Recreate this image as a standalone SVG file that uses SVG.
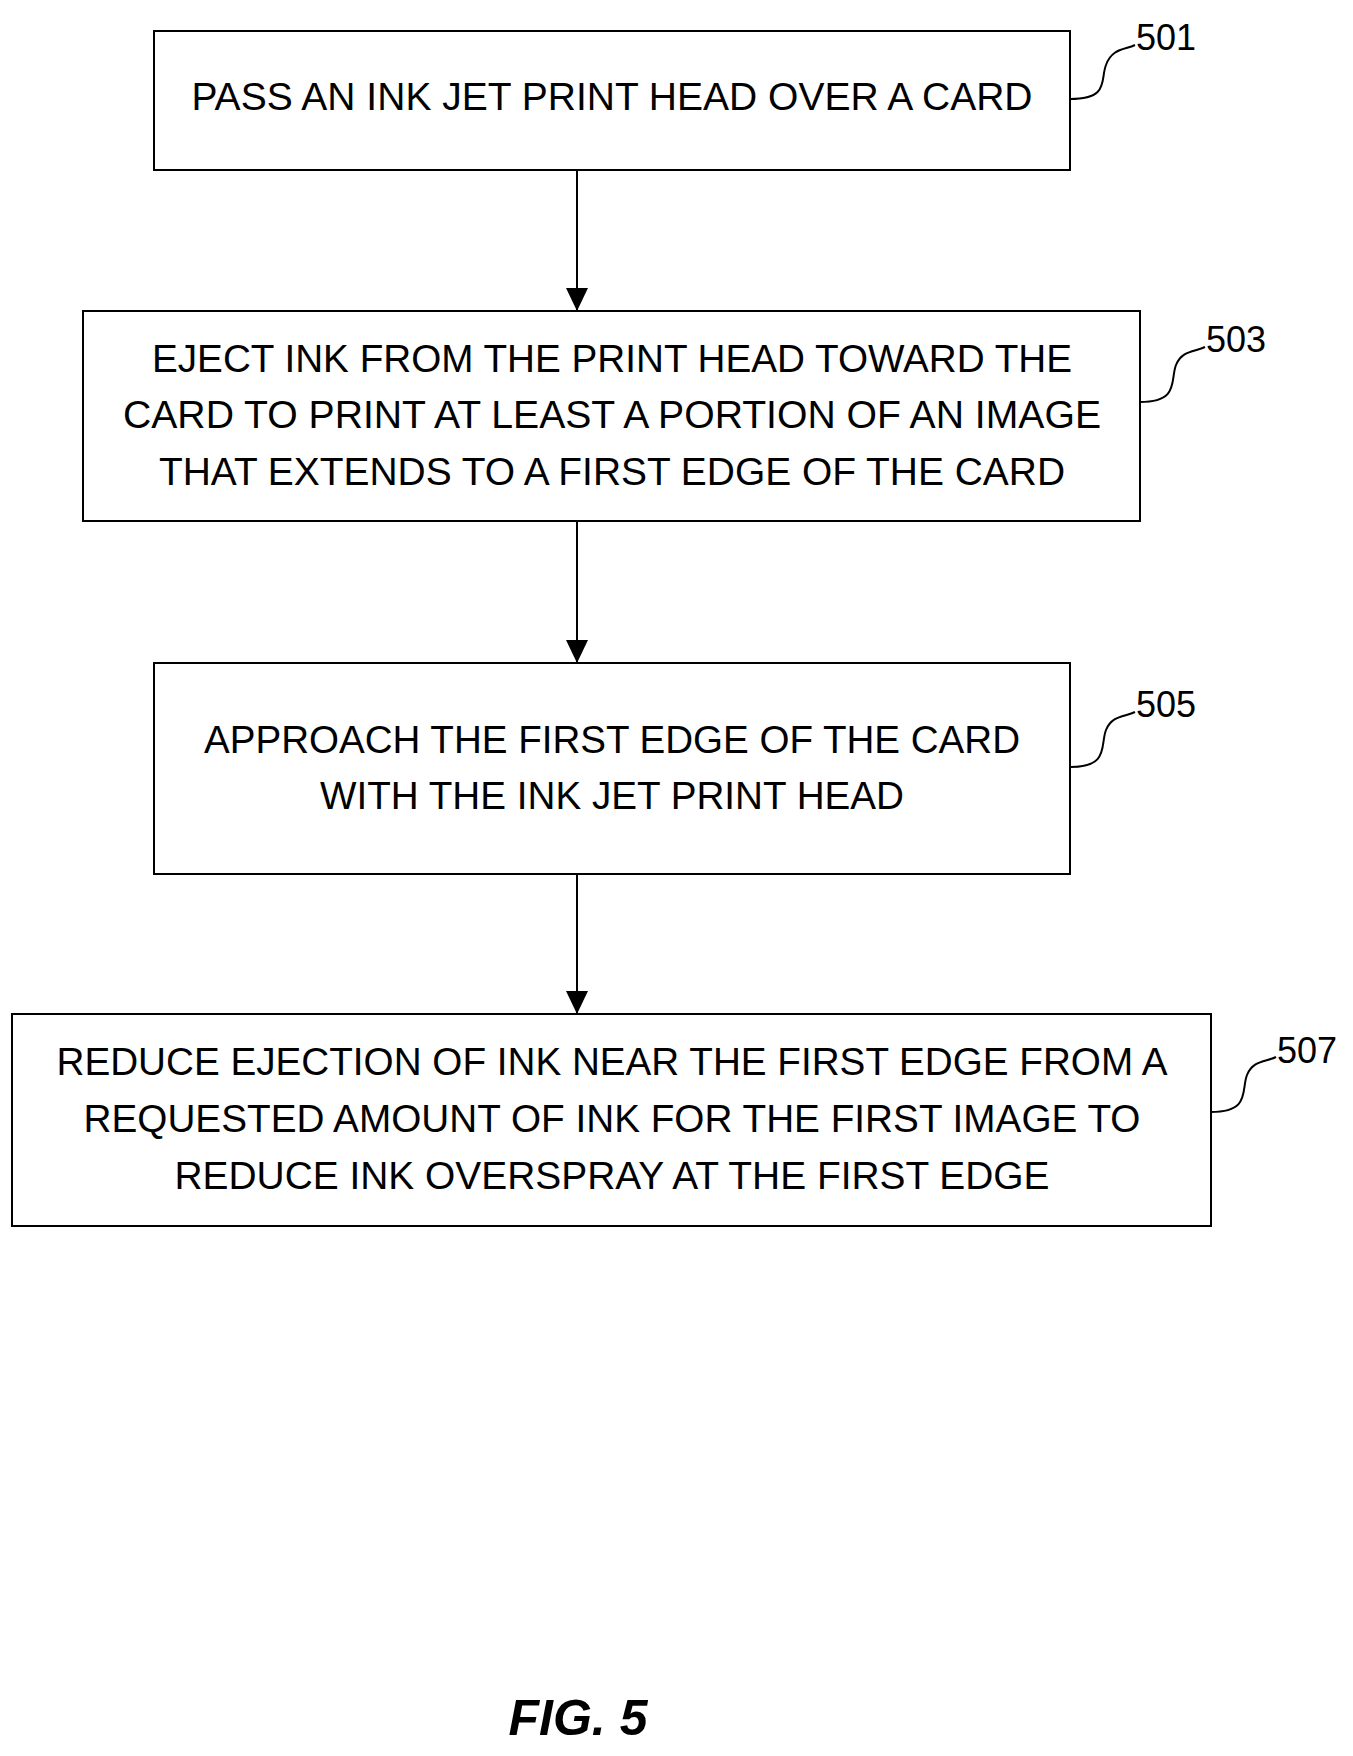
<svg xmlns="http://www.w3.org/2000/svg" width="1353" height="1756" viewBox="0 0 1353 1756">
<style>
rect{fill:#fff;stroke:#000;stroke-width:2}
text{font-family:"Liberation Sans",Arial,sans-serif;font-size:38px;text-anchor:middle;fill:#000}
.lbl{font-size:36px;text-anchor:start}
.sq{fill:none;stroke:#000;stroke-width:2}
.c{stroke:#000;stroke-width:2;marker-end:url(#a)}
</style>
<defs><marker id="a" viewBox="0 0 10 10" refX="10" refY="5" markerWidth="10" markerHeight="10" markerUnits="userSpaceOnUse" orient="auto"><path d="M0,0L10,5L0,10z" fill="#000"/></marker></defs>
<rect width="1353" height="1756" style="stroke:none"/>
<g id="connectors">
<line class="c" x1="577" y1="170" x2="577" y2="311" style="marker-end:none"/>
<path d="M566,288L577,311L588,288z"/>
<line x1="577" y1="521" x2="577" y2="663" stroke="#000" stroke-width="2"/>
<path d="M566,640L577,663L588,640z"/>
<line x1="577" y1="874" x2="577" y2="1014" stroke="#000" stroke-width="2"/>
<path d="M566,991L577,1014L588,991z"/>
</g>
<g id="n501">
<rect x="154" y="31" width="916" height="139"/>
<text x="612" y="110" textLength="841" lengthAdjust="spacingAndGlyphs">PASS AN INK JET PRINT HEAD OVER A CARD</text>
<path class="sq" d="M1070,99C1110,99 1100,80 1106,65C1112,48 1125,50 1135,45"/>
<text class="lbl" x="1136" y="50">501</text>
</g>
<g id="n503">
<rect x="83" y="311" width="1057" height="210"/>
<text x="612" y="372" textLength="920" lengthAdjust="spacingAndGlyphs">EJECT INK FROM THE PRINT HEAD TOWARD THE</text>
<text x="612" y="428" textLength="978" lengthAdjust="spacingAndGlyphs">CARD TO PRINT AT LEAST A PORTION OF AN IMAGE</text>
<text x="612" y="485" textLength="906" lengthAdjust="spacingAndGlyphs">THAT EXTENDS TO A FIRST EDGE OF THE CARD</text>
<path class="sq" d="M1140,402C1180,402 1170,380 1176,365C1182,350 1195,352 1205,347"/>
<text class="lbl" x="1206" y="352">503</text>
</g>
<g id="n505">
<rect x="154" y="663" width="916" height="211"/>
<text x="612" y="753" textLength="816" lengthAdjust="spacingAndGlyphs">APPROACH THE FIRST EDGE OF THE CARD</text>
<text x="612" y="809" textLength="584" lengthAdjust="spacingAndGlyphs">WITH THE INK JET PRINT HEAD</text>
<path class="sq" d="M1070,767C1110,767 1100,745 1106,730C1112,715 1125,717 1135,712"/>
<text class="lbl" x="1136" y="717">505</text>
</g>
<g id="n507">
<rect x="12" y="1014" width="1199" height="212"/>
<text x="612" y="1075" textLength="1111" lengthAdjust="spacingAndGlyphs">REDUCE EJECTION OF INK NEAR THE FIRST EDGE FROM A</text>
<text x="612" y="1132" textLength="1057" lengthAdjust="spacingAndGlyphs">REQUESTED AMOUNT OF INK FOR THE FIRST IMAGE TO</text>
<text x="612" y="1189" textLength="875" lengthAdjust="spacingAndGlyphs">REDUCE INK OVERSPRAY AT THE FIRST EDGE</text>
<path class="sq" d="M1211,1112C1251,1112 1241,1090 1247,1075C1253,1060 1266,1062 1276,1057"/>
<text class="lbl" x="1277" y="1063">507</text>
</g>
<text x="578" y="1735" style="font-size:50px;font-weight:bold;font-style:italic">FIG. 5</text>
</svg>
